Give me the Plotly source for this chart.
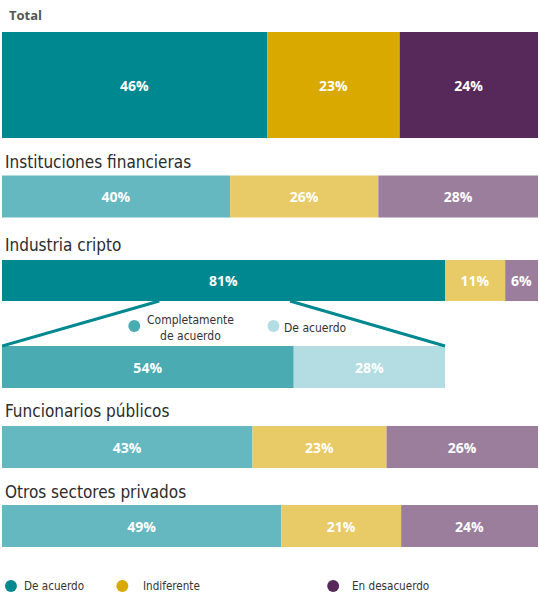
import plotly.graph_objects as go

# ---- data ----
groups = ["Total", "Instituciones financieras", "Industria cripto",
          "Funcionarios públicos", "Otros sectores privados"]
de_acuerdo = [46, 40, 81, 43, 49]
indiferente = [23, 26, 11, 23, 21]
en_desacuerdo = [24, 28, 6, 26, 24]
cripto_breakdown_labels = ["Completamente<br>de acuerdo", "De acuerdo"]
cripto_breakdown = [54, 28]
legend_labels = ["De acuerdo", "Indiferente", "En desacuerdo"]

# ---- styles ----
dark = ["#008891", "#d9a900", "#56295a"]
light = ["#66b8c0", "#e8ca66", "#9b7e9c"]
sub_colors = ["#4aabb3", "#b3dde2"]
COND = "DejaVu Sans Condensed, Liberation Sans Narrow, Roboto, sans-serif"

W, H = 539, 600
bar_center = [85, 196.5, 280.5, 447, 526]
bar_height = [106, 42, 41, 42, 42]
title_y = [15, 162, 245, 411, 492]
sub_center, sub_height = 367, 42

label_font = dict(family="Open Sans", size=14, color="white")

fig = go.Figure()

for i, g in enumerate(groups):
    vals = [de_acuerdo[i], indiferente[i], en_desacuerdo[i]]
    total = sum(vals)
    if i == 0:
        cols = dark
    elif g == "Industria cripto":
        cols = [dark[0], light[1], light[2]]
    else:
        cols = light
    base = 0
    for j, v in enumerate(vals):
        w = v / total * 100
        fig.add_trace(go.Bar(
            orientation="h", y=[bar_center[i]], x=[w], base=[base],
            width=bar_height[i], marker=dict(color=cols[j], line=dict(width=0)),
            text=[f"<b>{v}%</b>"], textposition="inside",
            insidetextanchor="middle", textfont=label_font,
            showlegend=False, hoverinfo="skip"))
        base += w
    fig.add_annotation(x=0, y=title_y[i], xref="paper", yref="y",
                       text=("<b>" + g + "</b>") if i == 0 else g,
                       showarrow=False, xanchor="left", yanchor="middle",
                       xshift=(5 if i == 0 else 1),
                       font=dict(family="Open Sans" if i == 0 else COND,
                                 size=13 if i == 0 else 17,
                                 color="#555555" if i == 0 else "#2b2b2b"))

ci = groups.index("Industria cripto")
ctotal = de_acuerdo[ci] + indiferente[ci] + en_desacuerdo[ci]
seg_w = de_acuerdo[ci] / ctotal * 100
sub_sum = sum(cripto_breakdown)
base = 0
for j, v in enumerate(cripto_breakdown):
    w = v / sub_sum * seg_w
    fig.add_trace(go.Bar(
        orientation="h", y=[sub_center], x=[w], base=[base], width=sub_height,
        marker=dict(color=sub_colors[j], line=dict(width=0)),
        text=[f"<b>{v}%</b>"], textposition="inside", insidetextanchor="middle",
        textfont=label_font, showlegend=False, hoverinfo="skip"))
    base += w

top_y = bar_center[ci] + bar_height[ci] / 2
bot_y = sub_center - sub_height / 2
for fx, bx in [(0.355 * seg_w, 0), (0.65 * seg_w, seg_w)]:
    fig.add_shape(type="line", xref="x", yref="y", x0=fx, y0=top_y, x1=bx, y1=bot_y,
                  line=dict(color="#008891", width=3))

inner_font = dict(family=COND, size=12, color="#333333")
inner = [(133, 144, cripto_breakdown_labels[0], 328), (273, 282, cripto_breakdown_labels[1], 328)]
for j, (cx, tx, lab, ty) in enumerate(inner):
    fig.add_shape(type="circle", xref="paper", yref="y",
                  x0=(cx - 6) / W, x1=(cx + 6) / W, y0=320, y1=332,
                  fillcolor=sub_colors[j], line=dict(width=0))
    fig.add_annotation(x=tx / W, y=ty, xref="paper", yref="y",
                       text=lab, showarrow=False, xanchor="left", yanchor="middle",
                       align="center", font=inner_font)

leg_font = dict(family=COND, size=11.6, color="#333333")
bottom = [(9, 20), (121, 140), (333, 350)]
for j, (cx, tx) in enumerate(bottom):
    fig.add_shape(type="circle", xref="paper", yref="y",
                  x0=(cx - 6) / W, x1=(cx + 6) / W, y0=580, y1=592,
                  fillcolor=dark[j], line=dict(width=0))
    fig.add_annotation(x=tx / W, y=586, xref="paper", yref="y",
                       text=legend_labels[j], showarrow=False, xanchor="left",
                       yanchor="middle", font=leg_font)

fig.update_layout(
    width=W, height=H, margin=dict(l=2, r=1, t=0, b=0),
    paper_bgcolor="white", plot_bgcolor="white", barmode="overlay",
    xaxis=dict(range=[0, 100], visible=False, fixedrange=True),
    yaxis=dict(range=[H, 0], visible=False, fixedrange=True),
    uniformtext=dict(mode="show", minsize=8),
)
fig.write_html("out.html", config=dict(displayModeBar=False),
               post_script="document.body.style.margin='0px';document.body.style.padding='0px';document.body.style.overflow='hidden';")
